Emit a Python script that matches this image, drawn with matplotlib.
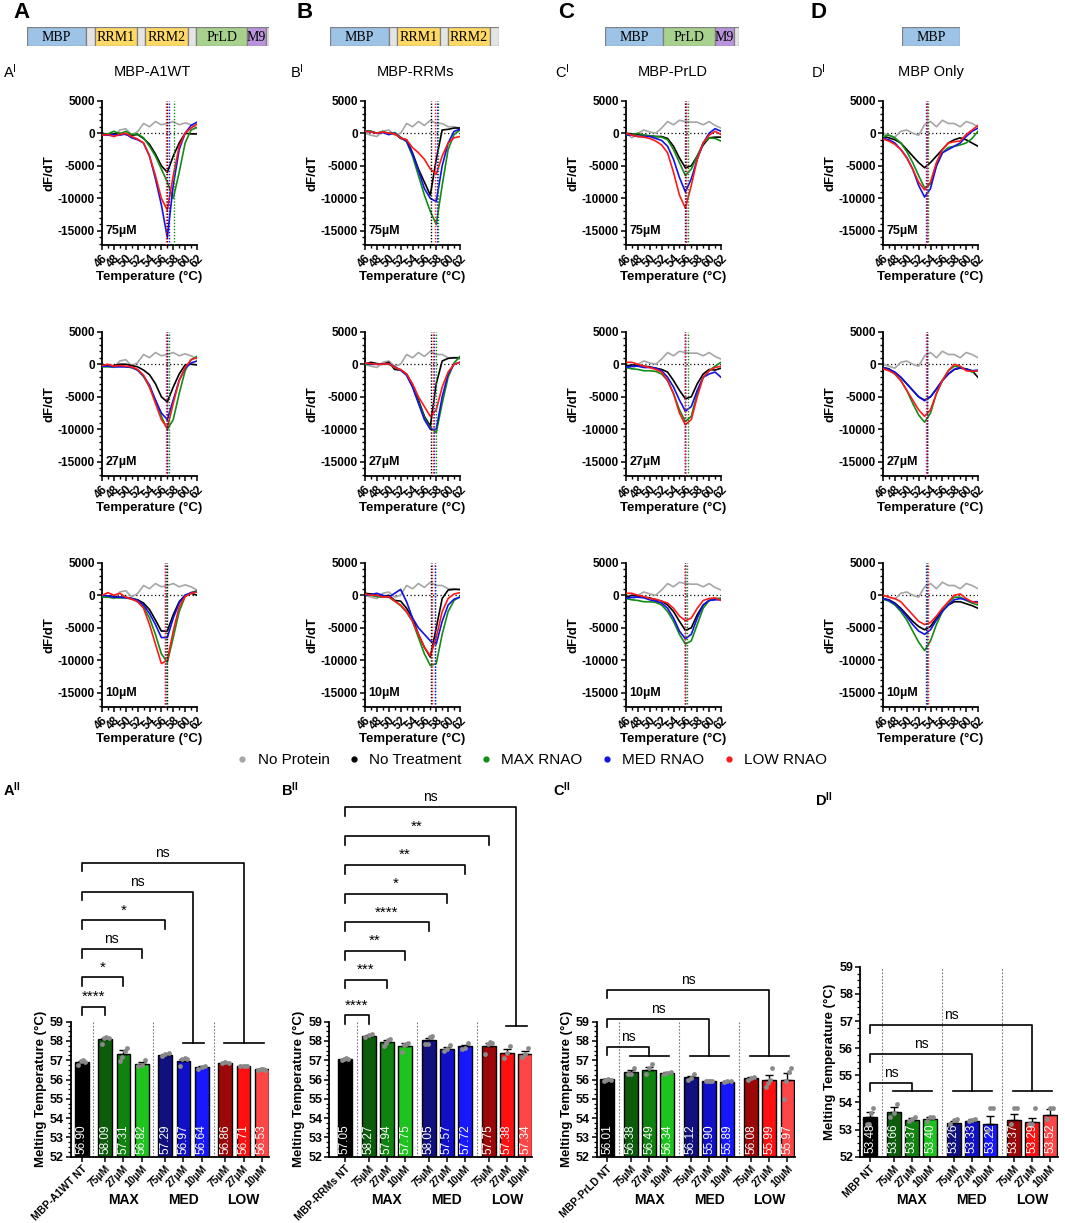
import matplotlib
matplotlib.use('Agg')
import matplotlib.pyplot as plt
import numpy as np
from matplotlib.ticker import MultipleLocator, FixedLocator
from matplotlib.lines import Line2D

plt.rcParams['font.family'] = ['Liberation Sans', 'DejaVu Sans']

# ---------------- DATA ----------------
T = list(range(46, 63))

gray_A = [0, -250, -500, 500, 700, -250, 250, 1500, 1000, 1800, 1300, 1500, 1800, 1300, 1600, 1300, 800]
gray_B = [0, -300, -500, 300, 500, -300, 0, 1500, 1000, 1800, 1200, 2000, 1500, 1500, 1000, 1000, 800]
gray_C = [0, -700, 0, 500, 200, 0, 800, 1800, 1300, 2000, 1800, 1700, 1700, 1300, 1800, 1200, 800]
gray_D = [0, -300, -600, 300, 500, 0, -300, 1300, 1800, 1000, 2000, 1500, 1500, 1000, 1800, 1500, 1000]

# order: No Treatment, MAX, MED, LOW
A75_nt = [0, -200, -100, 0, -200, -300, -200, -800, -1700, -3200, -5000, -6000, -3500, -1500, 0, -100, -100]
A75_max = [-200, -100, 300, -100, 300, -200, -100, -700, -2000, -3500, -5500, -7500, -10000, -6000, -1500, 500, 900]
A75_med = [-300, -300, -200, -300, -100, -700, -1000, -1500, -3500, -7000, -11000, -16000, -8000, -2500, 0, 1200, 1700]
A75_low = [-300, -200, -500, -200, 0, -500, -900, -1500, -3500, -6500, -10000, -11800, -6500, -2000, 0, 800, 1400]
A27_nt = [0, -300, -200, 0, 0, -200, -400, -900, -1600, -3000, -5000, -5800, -3500, -1500, -100, 0, -100]
A27_max = [-400, -400, -400, -300, -400, -500, -900, -1900, -3500, -5500, -8000, -10000, -8500, -4500, -1000, 700, 1200]
A27_med = [-300, -300, -400, -400, -400, -500, -900, -1800, -3200, -5500, -7500, -8500, -5500, -2500, -600, 200, 500]
A27_low = [-200, 0, -300, -200, -300, -400, -800, -1700, -3500, -6000, -8500, -9800, -6000, -2500, -500, 700, 1000]
A10_nt = [0, -100, -200, -300, -300, -500, -700, -1200, -2200, -3800, -5500, -5500, -3000, -1000, 0, 300, 0]
A10_max = [-300, -300, -400, -400, -400, -600, -900, -1800, -3500, -6000, -9000, -10300, -6500, -2500, -200, 400, 700]
A10_med = [0, -100, -300, -300, -400, -500, -800, -1500, -2800, -4500, -6500, -6500, -3500, -1200, 0, 400, 500]
A10_low = [0, 400, 0, 300, -300, -600, -1000, -2000, -4500, -7500, -10500, -10000, -5500, -1800, -200, 300, 500]

B75_nt = [300, 300, 0, 200, 0, 0, -800, -1000, -3000, -5500, -7500, -9500, -4000, 500, 600, 800, 800]
B75_max = [400, 300, 0, 300, -200, 100, -600, -1300, -3500, -6500, -9500, -12000, -14000, -8000, -2500, -200, 500]
B75_med = [300, 200, 0, 100, -200, 0, -700, -1200, -3200, -5700, -8500, -10000, -10500, -5000, -1500, 300, 600]
B75_low = [300, 200, 0, 200, 0, -100, -700, -1000, -2200, -3000, -4000, -5500, -6300, -3500, -1500, -700, -500]
B27_nt = [0, 300, 100, 0, 300, -800, -900, -1500, -3200, -5500, -8000, -9500, -3000, 500, 900, 1000, 1000]
B27_max = [0, 0, 0, 0, 0, -500, -900, -1600, -3400, -5800, -8200, -9800, -10500, -6000, -2000, 200, 1200]
B27_med = [200, 0, 0, 0, 100, -400, -900, -1700, -3500, -6000, -8500, -10000, -10000, -5000, -1500, 0, 300]
B27_low = [200, 100, 0, 0, 100, -500, -800, -1500, -3000, -5000, -6500, -8000, -7000, -3500, -1200, 0, 300]
B10_nt = [300, 200, 0, -200, 0, -800, -900, -2000, -3500, -6000, -8000, -9500, -5000, -500, 800, 900, 900]
B10_max = [0, 0, -200, -300, -300, -900, -1600, -2600, -4000, -6500, -9000, -10800, -10500, -6000, -2500, -800, -200]
B10_med = [0, 100, 300, 0, -300, 300, 900, -1000, -3500, -5000, -6000, -7000, -7500, -4000, -1500, -600, -300]
B10_low = [200, 0, 0, -300, -200, -900, -1500, -2500, -4000, -6000, -8000, -9300, -6500, -2500, -500, 200, 400]

C75_nt = [0, -100, -200, -300, -400, -500, -500, -800, -2000, -3800, -5300, -5000, -3500, -1800, -700, -600, -600]
C75_max = [-300, -200, 0, -300, -400, -500, -600, -1000, -2500, -4500, -6500, -5500, -3500, -1500, -700, -800, -1200]
C75_med = [-200, -300, -500, -500, -500, -800, -1100, -2000, -4000, -6800, -9000, -7000, -4000, -1500, 0, 700, 300]
C75_low = [0, -300, -500, -600, -800, -1200, -1800, -3000, -6000, -9500, -11500, -8000, -4000, -1500, -300, 300, -200]
C27_nt = [-300, -100, -200, -300, -400, -600, -800, -1200, -2500, -4000, -5300, -5000, -3000, -1500, -800, -900, -600]
C27_max = [-500, -700, -800, -1000, -1000, -1100, -1500, -2500, -4500, -7000, -8800, -8000, -4500, -2000, -1000, -300, 300]
C27_med = [-500, -300, -300, -500, -500, -600, -1000, -2000, -3500, -5500, -7200, -6500, -4000, -2000, -1500, -1200, -2000]
C27_low = [300, 300, 0, -300, -500, -800, -1200, -2500, -4500, -7500, -9300, -8500, -5000, -2000, -1000, -500, -300]
C10_nt = [-300, 0, -100, -300, -400, -700, -900, -1500, -2500, -4000, -5400, -5000, -3000, -1500, -800, -600, -500]
C10_max = [-500, -700, -800, -1000, -1000, -1100, -1500, -2500, -4000, -6000, -7500, -7000, -4500, -2000, -800, -500, -500]
C10_med = [-500, -300, -300, -400, -700, -900, -1200, -2000, -3500, -5500, -6700, -6000, -3500, -1500, -800, -700, -700]
C10_low = [300, 300, 0, -200, -500, -600, -900, -1200, -2000, -3200, -3900, -3500, -2000, -800, -500, -400, -800]

D75_nt = [-500, -700, -1000, -1500, -2500, -3500, -4500, -5300, -4500, -3500, -2500, -1500, -1000, -700, -1000, -1500, -2000]
D75_max = [-500, -300, -700, -1500, -2800, -4500, -6500, -8400, -7800, -5000, -3000, -2200, -2000, -1800, -1500, -800, 300]
D75_med = [-800, -1000, -1500, -2500, -3700, -5500, -8000, -9800, -8500, -5000, -3000, -2500, -2000, -1500, -500, 300, 800]
D75_low = [-900, -1200, -1700, -2500, -3800, -5500, -7500, -8700, -7500, -4500, -2500, -1500, -1300, -1200, -200, 500, 1200]
D27_nt = [-500, -700, -1300, -2000, -3000, -4000, -5000, -5500, -5000, -3800, -2500, -1500, -800, -600, -700, -1000, -2000]
D27_max = [-500, -800, -1500, -2500, -4000, -6000, -7800, -8900, -7500, -4500, -2500, -1000, -300, -500, -800, -1200, -1000]
D27_med = [-500, -800, -1200, -2000, -3000, -4000, -5000, -5600, -5000, -3800, -2500, -1500, -800, -500, -800, -1000, -900]
D27_low = [-700, -1000, -1500, -2500, -4000, -5500, -7000, -8000, -7000, -4500, -2500, -1000, 0, -300, -1000, -1100, -1000]
D10_nt = [-500, -700, -1200, -2000, -3000, -4000, -4800, -5300, -4800, -3500, -2300, -1500, -1000, -1000, -1300, -1600, -2000]
D10_max = [-600, -900, -1500, -2500, -3800, -5500, -7200, -8500, -7000, -4500, -2500, -1200, -300, -300, -800, -1200, -1500]
D10_med = [-500, -800, -1300, -2200, -3300, -4500, -5500, -6000, -5300, -3800, -2500, -1500, -700, -500, -700, -1000, -1000]
D10_low = [0, -300, -500, -1000, -2000, -3000, -4000, -4500, -4200, -3200, -2000, -1000, 0, 200, -500, -1000, -1200]

concs = ['75µM', '27µM', '10µM']
constructs = ['MBP-A1WT', 'MBP-RRMs', 'MBP-PrLD', 'MBP Only']

# melting temperatures (bar means): NT, MAX 75/27/10, MED 75/27/10, LOW 75/27/10
A_means = [56.90, 58.09, 57.31, 56.82, 57.29, 56.97, 56.64, 56.86, 56.71, 56.53]
B_means = [57.05, 58.27, 57.94, 57.75, 58.05, 57.57, 57.72, 57.75, 57.38, 57.34]
C_means = [56.01, 56.38, 56.49, 56.34, 56.12, 55.90, 55.89, 56.08, 55.99, 55.97]
D_means = [53.48, 53.66, 53.37, 53.40, 53.26, 53.33, 53.22, 53.37, 53.29, 53.52]

A_sem = [0.06, 0.08, 0.20, 0.10, 0.05, 0.09, 0.05, 0.03, 0.02, 0.03]
B_sem = [0.02, 0.05, 0.10, 0.12, 0.10, 0.10, 0.08, 0.15, 0.20, 0.15]
C_sem = [0.02, 0.10, 0.15, 0.03, 0.08, 0.01, 0.03, 0.05, 0.25, 0.35]
D_sem = [0.18, 0.17, 0.05, 0.06, 0.06, 0.05, 0.27, 0.20, 0.15, 0.22]

A_pts = [[56.75, 56.95, 57.0, 56.9], [57.85, 58.15, 58.2, 58.15], [56.95, 57.15, 57.5, 57.65],
         [56.7, 56.75, 57.0], [57.2, 57.3, 57.35], [56.7, 57.05, 57.1, 57.05], [56.55, 56.65, 56.7],
         [56.85, 56.9, 56.85], [56.7, 56.72, 56.71], [56.5, 56.55, 56.55, 56.5]]
B_pts = [[57.0, 57.05, 57.1, 57.05], [58.2, 58.3, 58.35], [57.75, 57.9, 58.05, 58.1],
         [57.45, 57.8, 57.85, 57.9], [57.85, 57.85, 58.2, 58.25], [57.5, 57.6, 57.8],
         [57.6, 57.65, 57.9], [57.3, 57.85, 57.95, 57.9], [57.1, 57.4, 57.75], [57.15, 57.3, 57.65]]
C_pts = [[55.95, 56.0, 56.05, 56.0], [56.3, 56.3, 56.6], [56.3, 56.6, 56.8], [56.3, 56.35, 56.4],
         [56.0, 56.1, 56.3], [55.9, 55.9, 55.9, 55.9], [55.85, 55.95, 55.9], [56.0, 56.1, 56.15],
         [55.6, 55.8, 56.0, 56.6], [55.0, 55.9, 56.4, 56.6]]
D_pts = [[53.2, 53.2, 53.6, 53.8], [53.45, 53.6, 53.95], [53.3, 53.4, 53.45], [53.3, 53.45, 53.45],
         [53.2, 53.35, 53.4], [53.3, 53.35, 53.4], [52.95, 53.8, 53.8], [53.2, 53.8, 53.8],
         [53.2, 53.2, 53.8], [53.4, 53.8, 53.8]]

nt_names = ['MBP-A1WT NT', 'MBP-RRMs NT', 'MBP-PrLD NT', 'MBP NT']
dose_labels = ['75µM', '27µM', '10µM']
group_labels = ['MAX', 'MED', 'LOW']

A_cmp = [((1,), '****'), ((2,), '*'), ((3,), 'ns'), ((4,), '*'), ((5, 6), 'ns'), ((7, 8, 9), 'ns')]
B_cmp = [((1,), '****'), ((2,), '***'), ((3,), '**'), ((4,), '****'), ((5,), '*'), ((6,), '**'),
         ((7,), '**'), ((8, 9), 'ns')]
C_cmp = [((1, 2, 3), 'ns'), ((4, 5, 6), 'ns'), ((7, 8, 9), 'ns')]
D_cmp = [((1, 2, 3), 'ns'), ((4, 5, 6), 'ns'), ((7, 8, 9), 'ns')]

# domain architecture (relative lengths)
dom_A = [('MBP', 59), ('', 9), ('RRM1', 42), ('', 8), ('RRM2', 43), ('', 8), ('PrLD', 51), ('M9', 19), ('', 3)]
dom_B = [('MBP', 59), ('', 8), ('RRM1', 43), ('', 8), ('RRM2', 42), ('', 9)]
dom_C = [('MBP', 58), ('PrLD', 52), ('M9', 19), ('', 5)]
dom_D = [('MBP', 58)]

legend_labels = ['No Protein', 'No Treatment', 'MAX RNAO', 'MED RNAO', 'LOW RNAO']

# ---------------- STYLE / LAYOUT ----------------
W, H = 1065, 1223
fig = plt.figure(figsize=(W / 100, H / 100), dpi=100)

def px_axes(l, t, r, b):
    return fig.add_axes([l / W, 1 - b / H, (r - l) / W, (b - t) / H])

def ftext(x, y, s, **kw):
    fig.text(x / W, 1 - y / H, s, **kw)

C_GRAY = '#a6a6a6'
C_BLACK = '#000000'
C_GREEN = '#128c12'
C_BLUE = '#1212e6'
C_RED = '#ff1a1a'
line_colors = [C_BLACK, C_GREEN, C_BLUE, C_RED]
dom_colors = {'MBP': '#9dc3e6', 'RRM1': '#ffd966', 'RRM2': '#ffd966', 'PrLD': '#a9d18e',
              'M9': '#b994dc', '': '#e4e4e4'}
bar_colors = ['#000000', '#0c5c0c', '#0f820f', '#1ec41e', '#10107e', '#1010c8', '#1818ff',
              '#9c0808', '#ff1010', '#ff4646']

# panel letters / labels
for x, L in zip([21, 305, 566, 819], 'ABCD'):
    ftext(x, 12, L, fontsize=16, fontweight='bold', ha='center', va='center')
for x, L in zip([3, 290, 555, 811], 'ABCD'):
    ftext(x, 72, r'$\mathregular{%s^{I}}$' % L, fontsize=10.5, ha='left', va='center')
for x, name in zip([152, 415, 673, 931], constructs):
    ftext(x, 72, name, fontsize=10.5, ha='center', va='center')

# domain diagrams
for start, dom in zip([27, 330, 605, 902], [dom_A, dom_B, dom_C, dom_D]):
    total = sum(w for _, w in dom)
    axd = px_axes(start, 27, start + total, 46)
    left = 0
    for name, w in dom:
        axd.barh(0.5, w, left=left, height=1, color=dom_colors[name], edgecolor='#7f7f7f', lw=0.9)
        if name:
            axd.text(left + w / 2, 0.45, name, ha='center', va='center', fontsize=10,
                     family=['Liberation Serif', 'DejaVu Serif'])
        left += w
    axd.set_xlim(0, total)
    axd.set_ylim(0, 1)
    axd.axis('off')

# line plots
panels = [
    [(A75_nt, A75_max, A75_med, A75_low), (A27_nt, A27_max, A27_med, A27_low), (A10_nt, A10_max, A10_med, A10_low)],
    [(B75_nt, B75_max, B75_med, B75_low), (B27_nt, B27_max, B27_med, B27_low), (B10_nt, B10_max, B10_med, B10_low)],
    [(C75_nt, C75_max, C75_med, C75_low), (C27_nt, C27_max, C27_med, C27_low), (C10_nt, C10_max, C10_med, C10_low)],
    [(D75_nt, D75_max, D75_med, D75_low), (D27_nt, D27_max, D27_med, D27_low), (D10_nt, D10_max, D10_med, D10_low)],
]
grays = [gray_A, gray_B, gray_C, gray_D]
all_means = [A_means, B_means, C_means, D_means]
col_left = [102, 365, 626, 883]
row_top = [100.7, 331.7, 562.7]

for ci in range(4):
    for ri in range(3):
        ax = px_axes(col_left[ci], row_top[ri], col_left[ci] + 95, row_top[ri] + 144.5)
        m = all_means[ci]
        tms = [m[0], m[1 + ri], m[4 + ri], m[7 + ri]]
        ax.axhline(0, color='black', ls=(0, (1, 2)), lw=0.9, zorder=1)
        ax.plot(T, grays[ci], color=C_GRAY, lw=1.2, zorder=2)
        for vals, c in zip(panels[ci][ri], line_colors):
            ax.plot(T, vals, color=c, lw=1.2, zorder=3)
        for tm, c in zip(tms, line_colors):
            ax.axvline(tm, color=c, ls=(0, (1, 1.2)), lw=1.0, zorder=4)
        ax.set_xlim(46, 62)
        ax.set_ylim(-17200, 5000)
        for s in ['top', 'right']:
            ax.spines[s].set_visible(False)
        for s in ['left', 'bottom']:
            ax.spines[s].set_linewidth(1.3)
        ax.set_yticks([-15000, -10000, -5000, 0, 5000])
        ax.set_yticklabels(['-15000', '-10000', '-5000', '0', '5000'], fontweight='bold', fontsize=8.5)
        ax.yaxis.set_minor_locator(FixedLocator(np.arange(-17000, 5001, 1000)))
        ax.set_xticks(np.arange(46, 63, 2))
        ax.set_xticklabels([str(v) for v in range(46, 63, 2)], fontweight='bold', fontsize=8.5,
                           rotation=45, ha='right', rotation_mode='anchor')
        ax.xaxis.set_minor_locator(MultipleLocator(1))
        ax.tick_params(which='major', length=3.5, width=1.1, pad=1.5)
        ax.tick_params(which='minor', length=2, width=1.0)
        ax.set_ylabel('dF/dT', fontweight='bold', fontsize=9.5, labelpad=2)
        ax.set_xlabel('Temperature (°C)', fontweight='bold', fontsize=9.5, labelpad=1)
        ax.text(46.6, -15000, concs[ri], fontweight='bold', fontsize=9, va='center', ha='left')

# legend
leg_colors = [C_GRAY, C_BLACK, C_GREEN, C_BLUE, C_RED]
handles = [Line2D([], [], marker='o', ls='none', color=c, markersize=3.5) for c in leg_colors]
fig.legend(handles, legend_labels, loc='center', bbox_to_anchor=(531 / W, 1 - 760 / H), ncol=5,
           frameon=False, fontsize=11, handletextpad=0.5, columnspacing=1.1, handlelength=1.0)

# bar charts
xpos = [0, 1.3, 2.3, 3.3, 4.6, 5.6, 6.6, 7.9, 8.9, 9.9]
bar_cfg = [
    dict(l=70.7, r=269, top=790, ppu=19.29, xl=-0.6, hs=[59.78, 61.30, 62.75, 64.25, 65.74, 67.24],
         floor=58.67, gy=57.88, ll=0.45),
    dict(l=329.3, r=532.4, top=790, ppu=19.29, xl=-0.86, hs=[59.32, 61.17, 62.65, 64.15, 65.62, 67.13, 68.6, 70.11],
         floor=58.86, gy=58.8, ll=0.45),
    dict(l=596.7, r=794.7, top=790, ppu=19.29, xl=-0.58, hs=[57.67, 59.14, 60.64],
         floor=57.3, gy=57.22, ll=0.4),
    dict(l=860, r=1057.5, top=950, ppu=27.14, xl=-0.55, hs=[54.70, 55.77, 56.84],
         floor=54.5, gy=54.42, ll=0.27),
]
bar_data = [(A_means, A_sem, A_pts, A_cmp), (B_means, B_sem, B_pts, B_cmp),
            (C_means, C_sem, C_pts, C_cmp), (D_means, D_sem, D_pts, D_cmp)]
bottom_px = 1156.7

for k, (cfg, (means, sems, pts, cmps)) in enumerate(zip(bar_cfg, bar_data)):
    ytop = 52 + (bottom_px - cfg['top']) / cfg['ppu']
    ax = px_axes(cfg['l'], cfg['top'], cfg['r'], bottom_px)
    ax.set_xlim(cfg['xl'], 10.3)
    ax.set_ylim(52, ytop)
    means_a = np.array(means)
    ax.bar(xpos, means_a - 52, bottom=52, width=0.76, color=bar_colors, edgecolor='black', lw=1.0, zorder=2)
    ax.errorbar(xpos, means_a, yerr=[np.zeros(10), sems], fmt='none', ecolor='black', elinewidth=1.0,
                capsize=3, capthick=1.0, zorder=3)
    for x, p in zip(xpos, pts):
        offs = np.linspace(-0.18, 0.18, len(p))
        ax.scatter(x + offs, p, s=12, color='#8a8a8a', zorder=4, linewidths=0)
    for x, mv in zip(xpos, means):
        ax.text(x, 52.12, f'{mv:.2f}', rotation=90, color='white', ha='center', va='bottom',
                fontsize=8.5, zorder=5)
    for sx in [0.65, 3.95, 7.25]:
        ax.plot([sx, sx], [52, 59], color='#7a7a7a', ls=(0, (1.5, 1.5)), lw=0.8, zorder=1)
    for (targets, lab), h in zip(cmps, cfg['hs']):
        first, last = xpos[targets[0]], xpos[targets[-1]]
        if len(targets) == 1:
            xr = first
            ybot = max(cfg['floor'], h - cfg['ll'])
        else:
            xr = (first + last) / 2
            ybot = cfg['gy']
            ax.plot([first - 0.05, last + 0.1], [cfg['gy'], cfg['gy']], color='black', lw=1.2, clip_on=False)
        ax.plot([0, 0, xr, xr], [h - cfg['ll'], h, h, ybot], color='black', lw=1.2, clip_on=False)
        ax.annotate(lab, xy=(xr / 2, h), xytext=(0, 10), textcoords='offset pixels', ha='center',
                    va='center', fontsize=11 if '*' in lab else 10, annotation_clip=False)
    for s in ['top', 'right']:
        ax.spines[s].set_visible(False)
    ax.spines['left'].set_bounds(52, 59)
    ax.spines['left'].set_linewidth(1.3)
    ax.spines['bottom'].set_linewidth(1.3)
    ax.set_yticks(range(52, 60))
    ax.set_yticklabels([str(v) for v in range(52, 60)], fontweight='bold', fontsize=9)
    ax.yaxis.set_minor_locator(FixedLocator(np.arange(52, 59.01, 0.25)))
    ax.set_xticks(xpos)
    ax.set_xticklabels([nt_names[k]] + dose_labels * 3, fontweight='bold', fontsize=7.5,
                       rotation=45, ha='right', rotation_mode='anchor')
    ax.tick_params(which='major', length=3.5, width=1.1, pad=1.5)
    ax.tick_params(which='minor', length=2, width=0.9)
    ax.set_ylabel('Melting Temperature (°C)', fontweight='bold', fontsize=9.5)
    ax.yaxis.set_label_coords(-0.12, (55.5 - 52) / (ytop - 52))
    for gx, gl in zip([2.3, 5.6, 8.9], group_labels):
        ax.annotate(gl, xy=(gx, 52), xytext=(0, -43), textcoords='offset pixels', ha='center',
                    va='center', fontsize=10, fontweight='bold', annotation_clip=False)

for x, y, L in zip([3, 281, 553, 815], [790, 790, 790, 800], 'ABCD'):
    ftext(x, y, r'$\mathregular{%s^{II}}$' % L, fontsize=10.5, fontweight='bold', ha='left', va='center')

fig.savefig('out.png', dpi=100)
